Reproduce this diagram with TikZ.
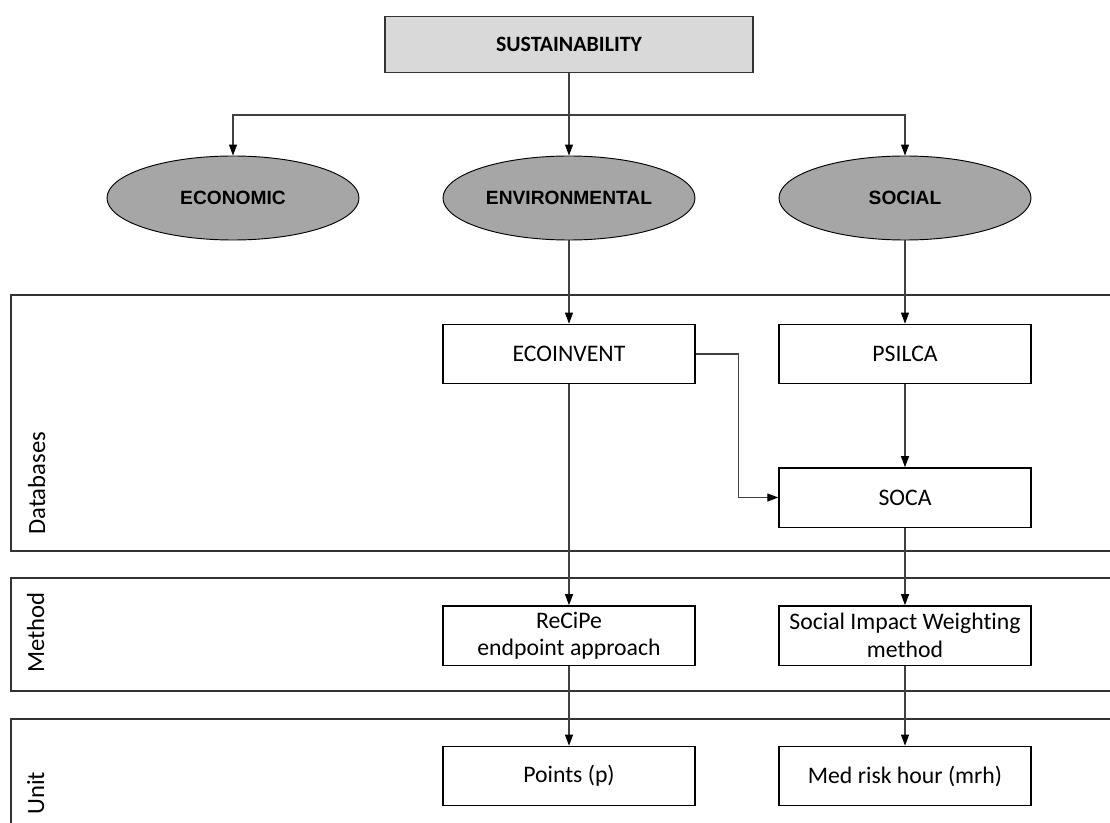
\documentclass[tikz,border=0pt]{standalone}
\usepackage{fontspec}
\setmainfont{Carlito}[Ligatures={NoCommon}]
\newfontfamily\arialfont{Liberation Sans}
\usetikzlibrary{shapes.geometric,arrows.meta}
\definecolor{lanegray}{HTML}{333333}
\definecolor{conngray}{HTML}{404040}
\definecolor{topfill}{HTML}{D9D9D9}
\definecolor{ellfill}{HTML}{A6A6A6}
\tikzset{
  boxnode/.style={draw=black, line width=1pt, minimum width=189pt, minimum height=44.5pt,
    inner sep=0pt, align=center, font=\fontsize{17.8}{20.5}\selectfont},
  ellnode/.style={ellipse, draw=black, line width=0.7pt, fill=ellfill, minimum width=189pt,
    minimum height=63pt, inner sep=0pt, font=\arialfont\bfseries\fontsize{14.4}{16}\selectfont},
  topnode/.style={draw=lanegray, line width=1.1pt, fill=topfill, minimum width=276pt,
    minimum height=42pt, inner sep=0pt, font=\bfseries\fontsize{16.4}{19}\selectfont},
  lanelabel/.style={rotate=90, anchor=base west, inner sep=0pt, font=\fontsize{18.5}{20}\selectfont},
  lane/.style={draw=lanegray, line width=1.1pt},
  conn/.style={draw=conngray, line width=0.8pt, -{Triangle[length=8.25pt,width=6pt,color=black]}},
  connplain/.style={draw=conngray, line width=0.8pt}
}
\begin{document}
\begin{tikzpicture}[x=0.75pt, y=-0.75pt]
\useasboundingbox (0,0) rectangle (1110,823);
% lanes
\path[lane] (1112,295) -- (11,295) -- (11,551) -- (1112,551);
\path[lane] (1112,578) -- (11,578) -- (11,691) -- (1112,691);
\path[lane] (1112,719) -- (11,719) -- (11,825);
\node[lanelabel] (ldb) at (45,535) {Databases};
\node[lanelabel] (lmeth) at (44,673) {Method};
\node[lanelabel] (lunit) at (44,815) {Unit};
% top
\node[topnode] (sus) at (569,44.5) {SUSTAINABILITY};
\node[ellnode] (eco) at (233,198) {ECONOMIC};
\node[ellnode] (env) at (569,198) {ENVIRONMENTAL};
\node[ellnode] (soc) at (905,198) {SOCIAL};
% boxes
\node[boxnode] (ecoinv) at (569,354) {ECOINVENT};
\node[boxnode] (psilca) at (905,354) {PSILCA};
\node[boxnode] (soca) at (905,497.5) {SOCA};
\node[boxnode] (recipe) at (569,635.5) {ReCiPe\\endpoint approach};
\node[boxnode] (siw) at (905,635.5) {Social Impact Weighting\\method};
\node[boxnode] (points) at (569,776) {Points (p)};
\node[boxnode] (mrh) at (905,776) {Med risk hour (mrh)};
% connectors
\coordinate (split) at (569,115);
\draw[connplain] (sus.south) -- (split);
\draw[conn] (split) -| (eco.north);
\draw[conn] (split) -| (soc.north);
\draw[conn] (split) -- (env.north);
\draw[conn] (env.south) -- (ecoinv.north);
\draw[conn] (soc.south) -- (psilca.north);
\draw[conn] (psilca.south) -- (soca.north);
\draw[conn] (ecoinv.east) -- ++(43,0) |- (soca.west);
\draw[conn] (ecoinv.south) -- (recipe.north);
\draw[conn] (soca.south) -- (siw.north);
\draw[conn] (recipe.south) -- (points.north);
\draw[conn] (siw.south) -- (mrh.north);
\end{tikzpicture}
\end{document}
